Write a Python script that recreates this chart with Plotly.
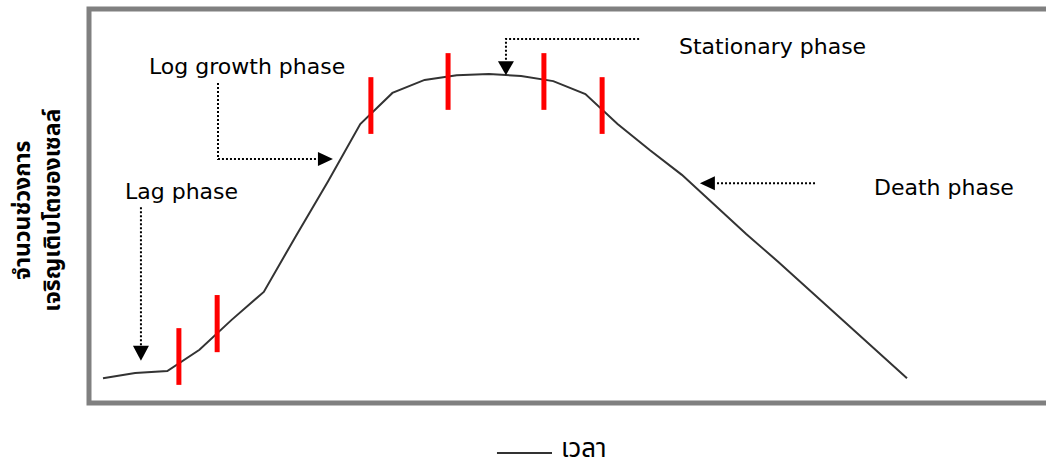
import plotly.graph_objects as go

# ---- data ----
time_steps = list(range(26))
cell_counts = [6.3, 7.6, 8.1, 13.5, 21.1, 28.2, 42.4, 56.3, 70.8, 78.7, 82.0, 83.2, 83.5,
               83.0, 81.7, 78.4, 70.8, 64.2, 57.9, 50.3, 42.9, 35.8, 28.4, 21.1, 13.5, 6.3]
series_name = "เวลา"
y_title = "จำนวนช่วงการ<br>เจริญเติบโตของเซลล์"

# phase boundary markers (time, low, high)
marker_t = [2.36, 3.55, 8.33, 10.73, 13.71, 15.52]
marker_lo = [4.6, 12.9, 68.3, 74.4, 74.4, 68.3]
marker_hi = [19.0, 27.4, 82.7, 88.8, 88.8, 82.7]

phase_labels = ["Lag phase", "Log growth phase", "Stationary phase", "Death phase"]

THAI = "Tahoma, 'Noto Sans Thai', 'Noto Sans Thai UI', 'Noto Sans', sans-serif"
LATIN = "Tahoma, 'DejaVu Sans', sans-serif"

fig = go.Figure()

# growth curve
fig.add_trace(go.Scatter(x=time_steps, y=cell_counts, mode="lines",
                         line=dict(color="#333333", width=2), name=series_name,
                         showlegend=False, hoverinfo="skip"))

# red phase markers
bx, by = [], []
for t, lo, hi in zip(marker_t, marker_lo, marker_hi):
    bx += [t, t, None]
    by += [lo, hi, None]
fig.add_trace(go.Scatter(x=bx, y=by, mode="lines", line=dict(color="#FF0000", width=5),
                         showlegend=False, hoverinfo="skip"))

# dotted leader lines
dot = dict(color="black", width=2, dash="2px,2px")
leaders = [
    ([1.18, 1.18], [49.7, 14.4]),                       # lag
    ([3.576, 3.576, 6.68], [81.2, 61.9, 61.9]),          # log
    ([16.67, 12.53, 12.53], [92.4, 92.4, 86.6]),         # stationary
    ([22.14, 19.03], [55.8, 55.8]),                     # death
]
for lx, ly in leaders:
    fig.add_trace(go.Scatter(x=lx, y=ly, mode="lines", line=dot,
                             showlegend=False, hoverinfo="skip"))

shapes = []
# arrowheads (pixel-sized, anchored at the tip)
heads = [
    (1.18, 10.7, "M0,0 L-8,15 L8,15 Z"),        # down
    (7.15, 61.9, "M0,0 L-15,7 L-15,-7 Z"),      # right
    (12.53, 83.2, "M0,0 L-8,14 L8,14 Z"),       # down
    (18.56, 55.8, "M0,0 L15,7 L15,-7 Z"),       # left
]
for ax_, ay_, p in heads:
    shapes.append(dict(type="path", xref="x", yref="y", xsizemode="pixel", ysizemode="pixel",
                       xanchor=ax_, yanchor=ay_, path=p, fillcolor="black",
                       line=dict(color="black", width=0)))

# frame (left, top, bottom)
shapes.append(dict(type="path", xref="paper", yref="paper",
                   path="M 1.05,1 L 0,1 L 0,0 L 1.05,0",
                   line=dict(color="#808080", width=5)))

# manual legend line
shapes.append(dict(type="line", xref="paper", yref="paper",
                   x0=0.4263, x1=0.4838, y0=-0.127, y1=-0.127,
                   line=dict(color="#333333", width=2)))

annotations = [
    dict(x=2.456, y=53.8, text=phase_labels[0]),
    dict(x=4.478, y=85.3, text=phase_labels[1]),
    dict(x=20.83, y=90.6, text=phase_labels[2]),
    dict(x=26.15, y=54.8, text=phase_labels[3]),
]
for a in annotations:
    a.update(xref="x", yref="y", showarrow=False, xanchor="center", yanchor="middle",
             font=dict(family=LATIN, size=22, color="black"))

annotations.append(dict(xref="paper", yref="paper", x=0.491, y=-0.1168, text=series_name,
                        showarrow=False, xanchor="left", yanchor="middle",
                        font=dict(family=THAI, size=26, color="black")))
annotations.append(dict(xref="paper", yref="paper", x=-0.0535, y=0.49,
                        text="<b>" + y_title + "</b>", textangle=-90, showarrow=False,
                        xanchor="center", yanchor="middle",
                        font=dict(family=THAI, size=23, color="black")))

fig.update_layout(
    width=1046, height=468,
    margin=dict(l=89, r=0, t=9, b=65),
    paper_bgcolor="white", plot_bgcolor="white",
    xaxis=dict(range=[-0.435, 29.322], showgrid=False, zeroline=False,
               showticklabels=False, showline=False, ticks=""),
    yaxis=dict(range=[0, 100], showgrid=False, zeroline=False,
               showticklabels=False, showline=False, ticks=""),
    shapes=shapes, annotations=annotations, showlegend=False,
)

fig.write_html("out.html", config={"displayModeBar": False},
               post_script="document.body.style.margin='0px';")
